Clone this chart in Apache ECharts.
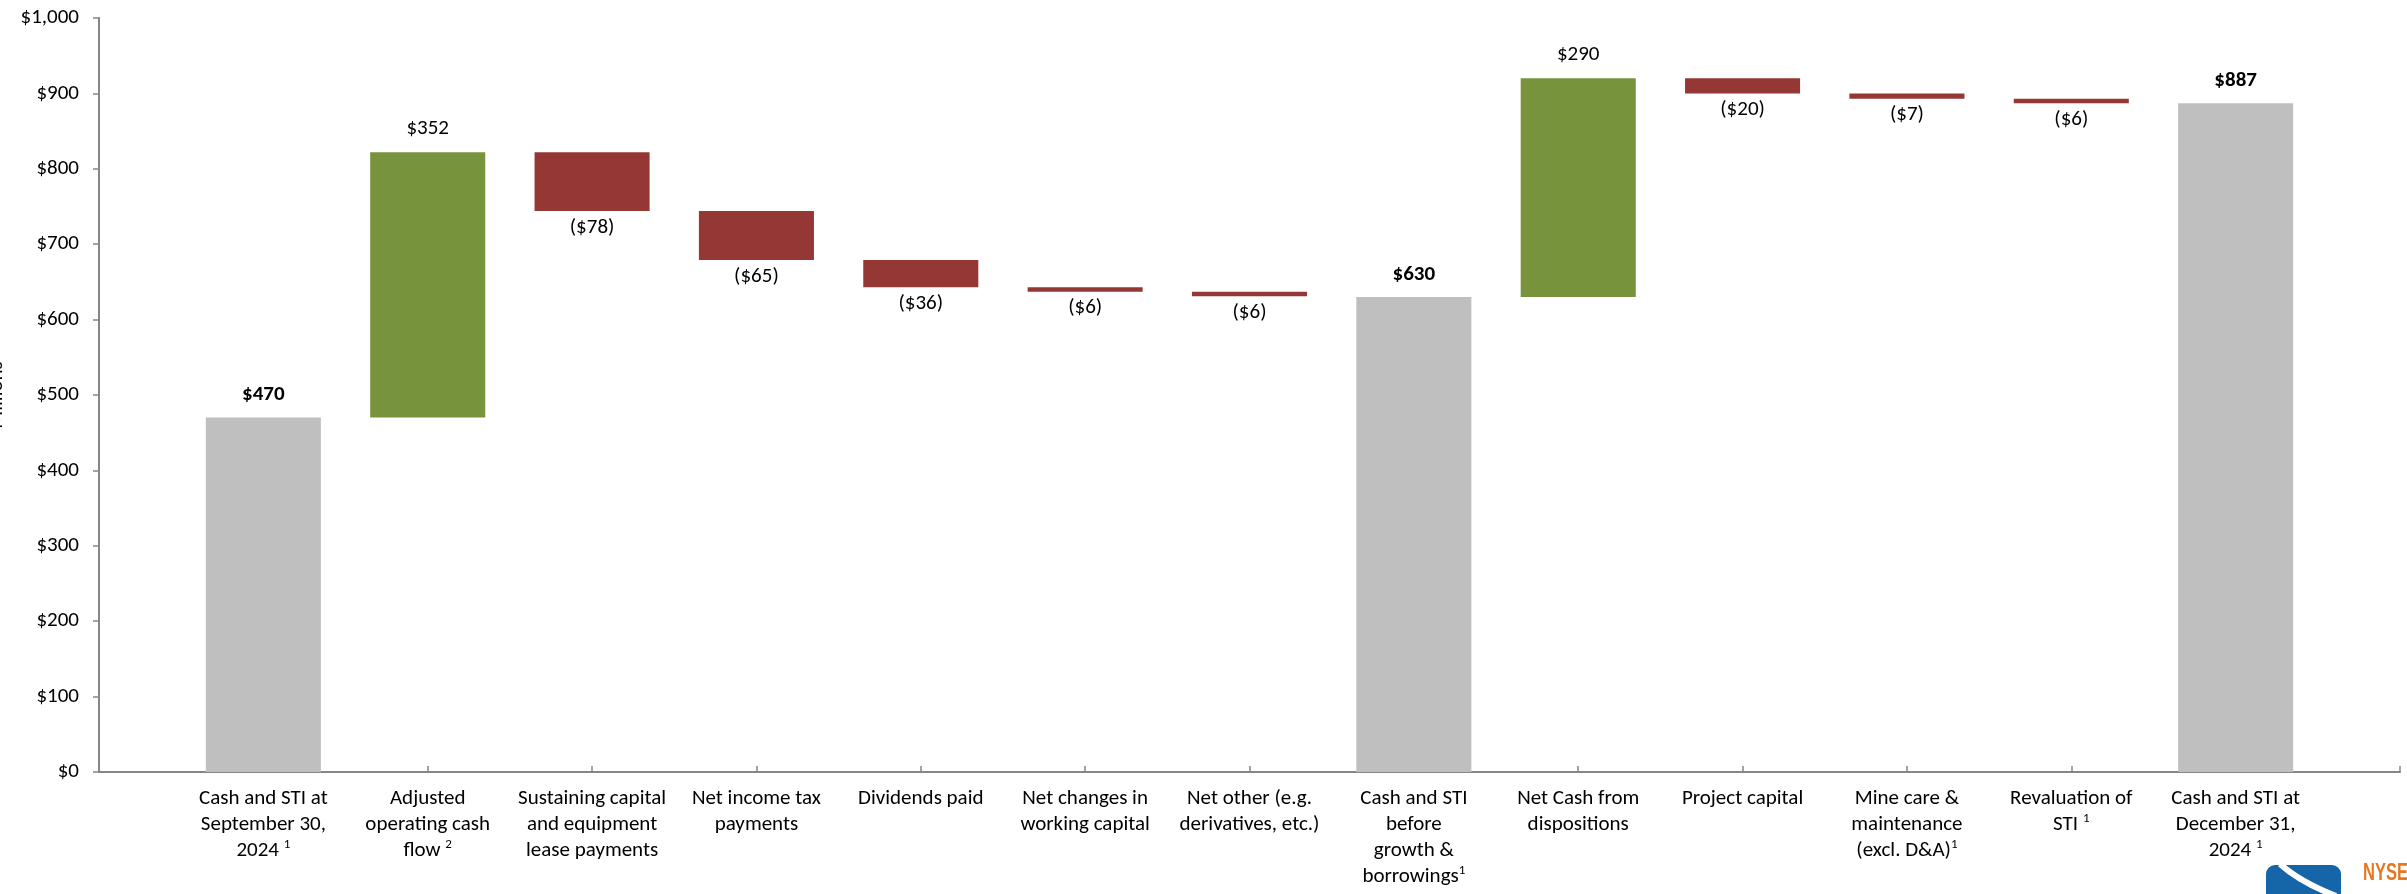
<!DOCTYPE html>
<html>
<head>
<meta charset="utf-8">
<script src="https://cdn.jsdelivr.net/npm/echarts@6/dist/echarts.min.js"></script>
<style>
  html, body { margin: 0; padding: 0; background: #fff; }
  #chart { width: 2407px; height: 894px; }
</style>
</head>
<body>
<div id="chart"></div>
<script>
// ---- data ----
const categories = [
  'Cash and STI at\nSeptember 30,\n2024 {sup|1}',
  'Adjusted\noperating cash\nflow {sup|2}',
  'Sustaining capital\nand equipment\nlease payments',
  'Net income tax\npayments',
  'Dividends paid',
  'Net changes in\nworking capital',
  'Net other (e.g.\nderivatives, etc.)',
  'Cash and STI\nbefore\ngrowth &\nborrowings{sup|1}',
  'Net Cash from\ndispositions',
  'Project capital',
  'Mine care &\nmaintenance\n(excl. D&A){sup|1}',
  'Revaluation of\nSTI {sup|1}',
  'Cash and STI at\nDecember 31,\n2024 {sup|1}'
];
const values = [470, 352, -78, -65, -36, -6, -6, 630, 290, -20, -7, -6, 887];
const kinds = ['total', 'delta', 'delta', 'delta', 'delta', 'delta', 'delta', 'total', 'delta', 'delta', 'delta', 'delta', 'total'];
const yTicks = { min: 0, max: 1000, interval: 100 };

// ---- styling ----
const FONT = "Carlito, 'Liberation Sans Narrow', 'Liberation Sans', sans-serif";
const GREY = '#BFBFBF', GREEN = '#77933C', RED = '#953735', AXIS = '#868686';
const FS = 21;

// ---- build waterfall; axis has an empty slot before and after the categories ----
const axisCats = [''].concat(categories, ['']);
const baseData = ['-'];
const barData = ['-'];
let running = 0;
values.forEach((v, i) => {
  const k = kinds[i];
  let base, h, color, label;
  if (k === 'total') {
    base = 0; h = v; running = v; color = GREY;
    label = { show: true, position: 'top', distance: 12, fontWeight: 'bold', formatter: '$' + v };
  } else if (v >= 0) {
    base = running; h = v; running += v; color = GREEN;
    label = { show: true, position: 'top', distance: 13, formatter: '$' + v };
  } else {
    base = running + v; h = -v; running += v; color = RED;
    label = { show: true, position: 'bottom', distance: 6, formatter: '($' + (-v) + ')' };
  }
  baseData.push(base);
  barData.push({ value: h, itemStyle: { color: color }, label: label });
});
baseData.push('-');
barData.push('-');

const chart = echarts.init(document.getElementById('chart'));
chart.setOption({
  animation: false,
  backgroundColor: '#fff',
  grid: { left: 99, right: 7, top: 18, bottom: 122, containLabel: false, outerBoundsMode: 'none' },
  xAxis: {
    type: 'category',
    data: axisCats,
    boundaryGap: false,
    axisLine: { lineStyle: { color: AXIS, width: 2 } },
    axisTick: { show: true, inside: true, length: 6, interval: 0, lineStyle: { color: AXIS, width: 1.5 } },
    axisLabel: {
      interval: 0, color: '#000', fontFamily: FONT, fontSize: FS, lineHeight: 26, margin: 14,
      rich: { sup: { fontFamily: FONT, fontSize: 13, lineHeight: 14, verticalAlign: 'top', color: '#000' } }
    },
    splitLine: { show: false }
  },
  yAxis: {
    type: 'value',
    min: yTicks.min, max: yTicks.max, interval: yTicks.interval,
    name: 'Millions', nameLocation: 'middle', nameRotate: 90, nameGap: 92,
    nameTextStyle: { fontFamily: FONT, fontSize: FS, color: '#000' },
    axisLine: { show: true, lineStyle: { color: AXIS, width: 2 } },
    axisTick: { show: true, length: 6, lineStyle: { color: AXIS, width: 1.5 } },
    axisLabel: {
      color: '#000', fontFamily: FONT, fontSize: FS, margin: 20,
      formatter: v => '$' + v.toLocaleString('en-US')
    },
    splitLine: { show: false }
  },
  series: [
    {
      name: 'base', type: 'bar', stack: 'w', data: baseData, barWidth: '70%',
      itemStyle: { color: 'transparent' }, silent: true
    },
    {
      name: 'value', type: 'bar', stack: 'w', data: barData, barWidth: '70%',
      label: { color: '#000', fontFamily: FONT, fontSize: FS }
    }
  ],
  graphic: [
    { type: 'rect', shape: { x: 2266, y: 865, width: 75, height: 40, r: 9 }, style: { fill: '#1466A8' }, z: 10 },
    { type: 'bezierCurve', shape: { x1: 2280, y1: 864, cpx1: 2300, cpy1: 882, x2: 2336, y2: 896 },
      style: { stroke: '#fff', lineWidth: 6, fill: null }, z: 11 },
    { type: 'text', x: 2363, y: 862, scaleX: 0.72,
      style: { text: 'NYSE', fill: '#E87722', fontFamily: "'Liberation Sans', sans-serif", fontSize: 23, fontWeight: 'bold' }, z: 10 }
  ]
});
</script>
</body>
</html>
